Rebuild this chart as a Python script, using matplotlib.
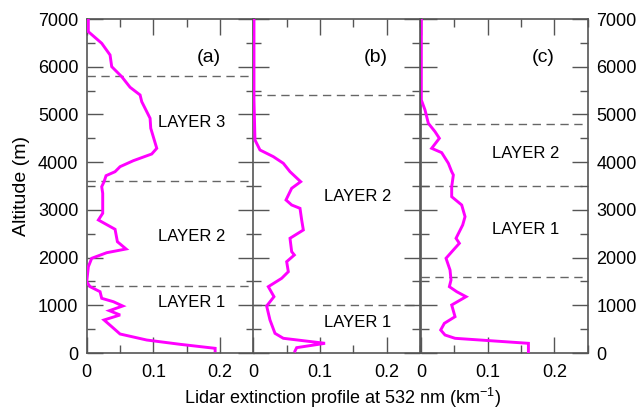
import matplotlib
matplotlib.use("Agg")
import matplotlib.pyplot as plt
from matplotlib.ticker import MultipleLocator

plt.rcParams['font.family'] = ['Liberation Sans', 'DejaVu Sans']
plt.rcParams['mathtext.fontset'] = 'custom'
plt.rcParams['mathtext.rm'] = 'Liberation Sans'

# Panel (a)
alt_a = [7000, 6735, 6491, 6246, 6001, 5791, 5569, 5408, 5267, 4919, 4710, 4290, 4171, 4031,
         3905, 3800, 3716, 3590, 3485, 3347, 2928, 2788, 2593, 2333, 2180, 2102, 1985, 1809,
         1494, 1390, 1285, 1146, 1075, 985, 887, 797, 692, 552, 398, 272, 182, 98, 48]
ext_a = [0.0024, 0.0024, 0.0225, 0.035, 0.0375, 0.0525, 0.065, 0.080, 0.0825, 0.095, 0.096,
         0.105, 0.0975, 0.070, 0.050, 0.0425, 0.029, 0.026, 0.0225, 0.024, 0.024, 0.0175,
         0.0425, 0.046, 0.059, 0.030, 0.0075, 0.0025, 0.0, 0.005, 0.020, 0.0225, 0.040, 0.054,
         0.034, 0.050, 0.026, 0.0375, 0.050, 0.090, 0.140, 0.1925, 0.1925]

# Panel (b)
alt_b = [7000, 5303, 4465, 4255, 4115, 3976, 3800, 3590, 3452, 3207, 3102, 3032, 2788, 2578,
         2404, 2124, 2054, 1914, 1704, 1565, 1390, 1180, 985, 692, 412, 308, 203, 112, 42]
ext_b = [0.001, 0.001, 0.0025, 0.010, 0.030, 0.045, 0.055, 0.071, 0.0575, 0.049, 0.0575,
         0.070, 0.0725, 0.075, 0.055, 0.0575, 0.0615, 0.050, 0.0525, 0.0425, 0.0225, 0.031,
         0.020, 0.025, 0.0325, 0.045, 0.1075, 0.065, 0.0625]

# Panel (c)
alt_c = [7000, 5303, 5094, 4814, 4639, 4500, 4290, 4199, 3976, 3800, 3731, 3485, 3276, 3102,
         2857, 2683, 2404, 2299, 2159, 1985, 1740, 1530, 1390, 1285, 1180, 1006, 761, 622,
         482, 377, 308, 203, 28]
ext_c = [0.0005, 0.0005, 0.006, 0.011, 0.021, 0.0275, 0.016, 0.031, 0.041, 0.046, 0.0485,
         0.046, 0.046, 0.061, 0.066, 0.0625, 0.0525, 0.0575, 0.0485, 0.0375, 0.0435, 0.045,
         0.0425, 0.0535, 0.0675, 0.046, 0.051, 0.035, 0.0295, 0.036, 0.051, 0.161, 0.161]

panel_labels = ['(a)', '(b)', '(c)']
layer_bounds = [[5800, 3600, 1400], [5400, 1000], [4800, 3500, 1600]]
layer_names = [['LAYER 3', 'LAYER 2', 'LAYER 1'], ['LAYER 2', 'LAYER 1'], ['LAYER 2', 'LAYER 1']]
layer_text_alt = [[4840, 2450, 1050], [3270, 630], [4190, 2580]]

xlabel = 'Lidar extinction profile at 532 nm (km$^{-1}$)'
ylabel = 'Altitude (m)'

W, H = 642, 411
fig = plt.figure(figsize=(W / 100, H / 100), dpi=100)

lefts = [86.7, 253.3, 421.0]
pw = 166.8
bottom = 58
ph = 334

profiles = [(ext_a, alt_a), (ext_b, alt_b), (ext_c, alt_c)]
spine_col = '#555555'
axes = []
for i in range(3):
    ax = fig.add_axes([lefts[i] / W, bottom / H, pw / W, ph / H])
    axes.append(ax)
    x, y = profiles[i]
    for b in layer_bounds[i]:
        ax.axhline(b, color='#666666', lw=1.0, ls=(0, (6, 4)), zorder=1)
    ax.plot(x, y, color='#ff00ff', lw=2.1, zorder=3, solid_joinstyle='miter')
    ax.set_xlim(0, 0.25)
    ax.set_ylim(0, 7000)
    ax.xaxis.set_major_locator(MultipleLocator(0.1))
    ax.xaxis.set_minor_locator(MultipleLocator(0.05))
    ax.yaxis.set_major_locator(MultipleLocator(1000))
    ax.yaxis.set_minor_locator(MultipleLocator(500))
    ax.set_xticks([0, 0.1, 0.2])
    ax.set_xticklabels(['0', '0.1', '0.2'])
    ax.tick_params(which='both', direction='in', top=True, bottom=True, left=True, right=True,
                   color=spine_col, width=1.0, labelsize=13)
    ax.tick_params(which='major', length=11.5, pad=6)
    ax.tick_params(axis='x', which='major', pad=8)
    ax.tick_params(which='minor', length=5.5)
    for s in ax.spines.values():
        s.set_color(spine_col)
        s.set_linewidth(1.2)
    if i == 0:
        ax.set_ylabel(ylabel, fontsize=14, labelpad=6)
    elif i == 2:
        ax.tick_params(axis='y', labelleft=False, labelright=True)
    else:
        ax.tick_params(axis='y', labelleft=False)
    for name, ta in zip(layer_names[i], layer_text_alt[i]):
        ax.text(0.157, ta, name, fontsize=12, ha='center', va='center')
    ax.text(0.183, 6200, panel_labels[i], fontsize=14, ha='center', va='center')

fig.text(343 / W, 1 - 398 / H, xlabel, fontsize=13, ha='center', va='center')

fig.savefig('out.png', dpi=100)
